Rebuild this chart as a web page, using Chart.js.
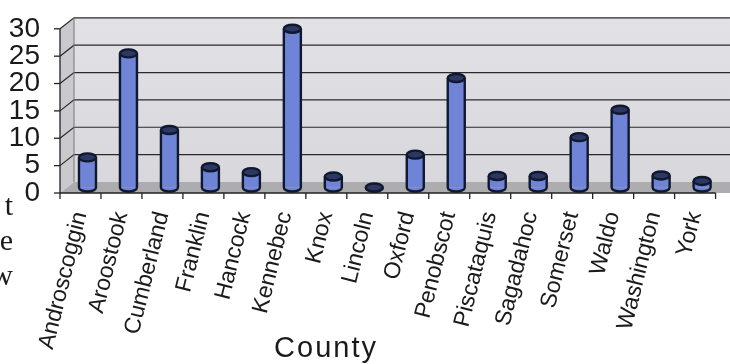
<!DOCTYPE html>
<html>
<head>
<meta charset="utf-8">
<script src="https://cdn.jsdelivr.net/npm/chart.js@4/dist/chart.umd.min.js"></script>
<style>
  html, body { margin: 0; padding: 0; background: #fff; }
  #wrap { width: 730px; height: 364px; }
</style>
</head>
<body>
<div id="wrap"><canvas id="c" width="730" height="364"></canvas></div>
<script>
const counties = ["Androscoggin", "Aroostook", "Cumberland", "Franklin", "Hancock", "Kennebec", "Knox", "Lincoln",
  "Oxford", "Penobscot", "Piscataquis", "Sagadahoc", "Somerset", "Waldo", "Washington", "York"];
const counts = [5.5, 24.5, 10.5, 3.7, 2.8, 29, 2, 0, 6, 20, 2.1, 2.1, 9.2, 14.2, 2.2, 1.2];
const yTicks = [0, 5, 10, 15, 20, 25, 30];
const xTitle = "County";
const leftText = ["t", "e", "w"];

// depth of the 3D box: back wall sits this far right/up of the front axes
const DX = 14, DY = -11;
const SANS = "'Liberation Sans', Arial, sans-serif";

const box3d = {
  id: "box3d",
  beforeDatasetsDraw(chart) {
    const { ctx, chartArea: a, scales: { x, y } } = chart;
    const L = a.left, B = a.bottom, T = a.top;
    const W = chart.width;
    ctx.save();
    // side wall
    ctx.fillStyle = "#c9c9ce";
    ctx.beginPath();
    ctx.moveTo(L, T); ctx.lineTo(L + DX, T + DY); ctx.lineTo(L + DX, B + DY); ctx.lineTo(L, B);
    ctx.closePath(); ctx.fill();
    // back wall
    const g = ctx.createLinearGradient(0, T + DY, 0, B + DY);
    g.addColorStop(0, "#e2e2e6"); g.addColorStop(1, "#d8d8dc");
    ctx.fillStyle = g;
    ctx.fillRect(L + DX, T + DY, W - (L + DX), B - T);
    // floor
    ctx.fillStyle = "#adadaf";
    ctx.beginPath();
    ctx.moveTo(L, B); ctx.lineTo(L + DX, B + DY); ctx.lineTo(W, B + DY); ctx.lineTo(W, B); ctx.lineTo(a.right, B);
    ctx.closePath(); ctx.fill();
    // gridlines on back wall + diagonals on side wall
    ctx.strokeStyle = "#2a2a2a"; ctx.lineWidth = 1.2;
    yTicks.forEach(v => {
      const py = y.getPixelForValue(v);
      if (v > 0) {
        ctx.beginPath();
        ctx.moveTo(L, py); ctx.lineTo(L + DX, py + DY); ctx.lineTo(W, py + DY);
        ctx.stroke();
      }
    });
    ctx.strokeStyle = "#777"; ctx.lineWidth = 1;
    ctx.beginPath(); ctx.moveTo(L + DX, T + DY); ctx.lineTo(L + DX, B + DY); ctx.stroke();
    // front axes
    ctx.strokeStyle = "#222"; ctx.lineWidth = 1.3;
    ctx.beginPath(); ctx.moveTo(L, T); ctx.lineTo(L, B); ctx.lineTo(a.right, B); ctx.stroke();
    yTicks.forEach(v => {
      const py = y.getPixelForValue(v);
      ctx.beginPath(); ctx.moveTo(L - 6, py); ctx.lineTo(L, py); ctx.stroke();
    });
    const step = (a.right - a.left) / counties.length;
    for (let i = 0; i <= counties.length; i++) {
      const px = x.getPixelForValue(i) - step / 2;
      ctx.beginPath(); ctx.moveTo(px, B); ctx.lineTo(px, B + 6); ctx.stroke();
    }
    ctx.restore();
    // bars sit mid-depth
    ctx.save();
    ctx.translate(DX / 2, DY / 2);
  },
  afterDatasetsDraw(chart) {
    const { ctx } = chart;
    const meta = chart.getDatasetMeta(0);
    const ry = 4;
    ctx.lineWidth = 2.4;
    ctx.strokeStyle = "#10182f";
    meta.data.forEach(bar => {
      const { x: cx, y: top, base, width } = bar.getProps(["x", "y", "base", "width"], true);
      const rx = width / 2;
      // bottom half ellipse
      ctx.fillStyle = "#6f84d6";
      ctx.beginPath();
      ctx.ellipse(cx, base, rx, ry, 0, 0, Math.PI);
      ctx.fill();
      ctx.beginPath();
      ctx.moveTo(cx - rx, top);
      ctx.lineTo(cx - rx, base);
      ctx.ellipse(cx, base, rx, ry, 0, Math.PI, 0, true);
      ctx.lineTo(cx + rx, top);
      ctx.stroke();
      // top cap
      ctx.fillStyle = "#2c3862";
      ctx.beginPath();
      ctx.ellipse(cx, top, rx, ry, 0, 0, Math.PI * 2);
      ctx.fill(); ctx.stroke();
    });
    ctx.restore();
  },
  afterDraw(chart) {
    const { ctx } = chart;
    ctx.save();
    ctx.fillStyle = "#1a1a1a";
    ctx.font = "29px " + SANS;
    ctx.textAlign = "center";
    ctx.textBaseline = "alphabetic";
    if ("letterSpacing" in ctx) ctx.letterSpacing = "2px";
    ctx.fillText(xTitle, 326, 357);
    if ("letterSpacing" in ctx) ctx.letterSpacing = "0px";
    ctx.font = "30px 'Liberation Serif', 'DejaVu Serif', serif";
    ctx.textAlign = "right";
    const ys = [215, 250, 285];
    leftText.forEach((s, i) => ctx.fillText(s, 13, ys[i]));
    ctx.restore();
  }
};

new Chart(document.getElementById("c").getContext("2d"), {
  type: "bar",
  data: {
    labels: counties,
    datasets: [{
      label: "Count",
      data: counts,
      backgroundColor: "#6f84d6",
      borderWidth: 0,
      barThickness: 17
    }]
  },
  options: {
    responsive: false,
    animation: false,
    layout: { padding: { top: 25, right: 4, left: 0, bottom: 0 } },
    plugins: { legend: { display: false }, tooltip: { enabled: false } },
    scales: {
      x: {
        grid: { display: false },
        border: { display: false },
        ticks: {
          autoSkip: false, minRotation: 76, maxRotation: 76, padding: 8,
          color: "#1a1a1a", font: { family: SANS, size: 23 }
        },
        afterFit(s) { s.height = 171; }
      },
      y: {
        min: 0, max: 30,
        grid: { display: false },
        border: { display: false },
        ticks: {
          stepSize: 5, autoSkip: false, padding: 12, color: "#1a1a1a",
          font: { family: SANS, size: 28 }
        },
        afterFit(s) { s.width = 60; }
      }
    }
  },
  plugins: [box3d]
});
</script>
</body>
</html>
